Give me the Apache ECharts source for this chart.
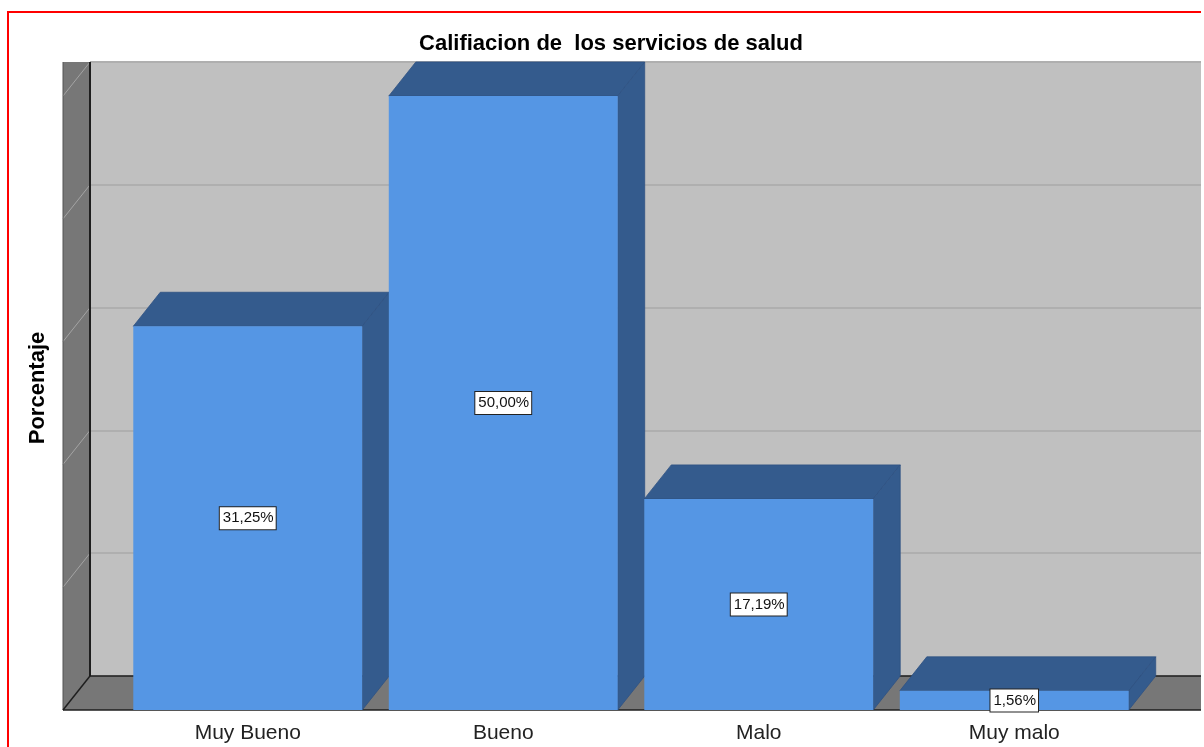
<!DOCTYPE html>
<html lang="es">
<head>
    <meta charset="UTF-8">
    <title>Califiacion de los servicios de salud</title>
    <script src="https://cdn.jsdelivr.net/npm/echarts@6/dist/echarts.min.js"></script>
    <style>
        body {
            margin: 0;
            padding: 0;
            background: #fff;
        }
        #chart {
            width: 1201px;
            height: 747px;
        }
    </style>
</head>
<body>
<div id="chart"></div>
<script>
    // Data
    const categories = ['Muy Bueno', 'Bueno', 'Malo', 'Muy malo'];
    const percentages = [31.25, 50.00, 17.19, 1.56];
    const yTicks = [0, 10, 20, 30, 40, 50];

    // 3D look: depth offset of the back plane
    const DX = 27;
    const DY = 34;
    const BAR_RATIO = 0.896;
    const FRONT = '#5596e4';
    const DARK = '#345b8d';
    const WALL = '#777777';
    const FONT = '"Liberation Sans", Arial, sans-serif';

    function fmt(v) {
        return v.toFixed(2).replace('.', ',') + '%';
    }

    // left wall + floor, drawn from the back grid
    function renderFrame(params, api) {
        const cs = params.coordSys;
        const y0 = api.coord([0, 0])[1];
        const left = cs.x;
        const right = cs.x + cs.width;
        const children = [
            { type: 'polygon', shape: { points: [[left - DX, cs.y], [left, cs.y], [left, y0], [left - DX, y0 + DY]] },
              style: { fill: WALL } },
            { type: 'polygon', shape: { points: [[left - DX, y0 + DY], [left, y0], [right + DX, y0], [right, y0 + DY]] },
              style: { fill: WALL } }
        ];
        yTicks.forEach(function (t) {
            if (t === 0) return;
            const y = api.coord([0, t])[1];
            children.push({ type: 'line', shape: { x1: left - DX, y1: y + DY, x2: left, y2: y },
                            style: { stroke: '#a4a4a4', lineWidth: 1 } });
        });
        const dark = { stroke: '#1e1e1e', lineWidth: 1.5 };
        children.push(
            { type: 'line', shape: { x1: left, y1: cs.y, x2: left, y2: y0 }, style: { stroke: '#1e1e1e', lineWidth: 2 } },
            { type: 'line', shape: { x1: left - DX, y1: cs.y, x2: left - DX, y2: y0 + DY }, style: { stroke: '#555', lineWidth: 1 } },
            { type: 'line', shape: { x1: left, y1: y0, x2: right + DX, y2: y0 }, style: dark },
            { type: 'line', shape: { x1: left - DX, y1: y0 + DY, x2: left, y2: y0 }, style: dark },
            { type: 'line', shape: { x1: left - DX, y1: y0 + DY, x2: right, y2: y0 + DY }, style: dark }
        );
        return { type: 'group', children: children };
    }

    function renderBar(params, api) {
        const v = api.value(1);
        const top = api.coord([api.value(0), v]);
        const base = api.coord([api.value(0), 0]);
        const w = api.size([1, 0])[0] * BAR_RATIO;
        const x0 = top[0] - w / 2;
        const x1 = top[0] + w / 2;
        const yt = top[1];
        const yb = base[1];
        const edge = { fill: DARK, stroke: '#2f5283', lineWidth: 0.8 };
        return {
            type: 'group',
            children: [
                { type: 'polygon', shape: { points: [[x0, yt], [x0 + DX, yt - DY], [x1 + DX, yt - DY], [x1, yt]] }, style: edge },
                { type: 'polygon', shape: { points: [[x1, yt], [x1 + DX, yt - DY], [x1 + DX, yb - DY], [x1, yb]] }, style: edge },
                { type: 'rect', shape: { x: x0, y: yt, width: w, height: yb - yt }, style: { fill: FRONT } },
                {
                    type: 'text', x: top[0], y: (yt + yb) / 2,
                    style: {
                        text: fmt(v), align: 'center', verticalAlign: 'middle',
                        fill: '#111', fontSize: 15, fontFamily: FONT,
                        backgroundColor: '#fff', borderColor: '#222', borderWidth: 1,
                        padding: [4, 2, 3, 3]
                    }
                }
            ]
        };
    }

    const chart = echarts.init(document.getElementById('chart'));

    chart.setOption({
        animation: false,
        title: {
            text: 'Califiacion de  los servicios de salud',
            left: 611,
            top: 33,
            textAlign: 'center',
            padding: 0,
            textStyle: { fontSize: 22, fontWeight: 'bold', color: '#000', fontFamily: FONT }
        },
        graphic: [
            { type: 'rect', z: 100, shape: { x: 8, y: 12, width: 1300, height: 800 },
              style: { fill: 'none', stroke: '#ff0000', lineWidth: 2 } },
            // y axis title, centred on the whole plot area
            { type: 'text', x: 38, y: 388, rotation: Math.PI / 2,
              style: { text: 'Porcentaje', align: 'center', verticalAlign: 'middle',
                       fontSize: 22, fontWeight: 'bold', fill: '#000', fontFamily: FONT } }
        ],
        grid: [
            // front plane (bars)
            { left: 120, right: 59, top: 96, bottom: 37 },
            // back wall
            { left: 90, right: 0, top: 62, bottom: 71, show: true, backgroundColor: '#c0c0c0', borderWidth: 0 }
        ],
        xAxis: [
            {
                gridIndex: 0,
                type: 'category',
                data: categories,
                axisLine: { show: false },
                axisTick: { show: false },
                axisLabel: { fontSize: 21, color: '#222', margin: 13, fontFamily: FONT }
            },
            { gridIndex: 1, type: 'value', min: 0, max: 1, show: false }
        ],
        yAxis: [
            {
                gridIndex: 0,
                type: 'value',
                min: 0,
                max: 50,
                interval: 10,
                axisLine: { show: false },
                axisTick: { show: false },
                axisLabel: { show: false },
                splitLine: { show: false }
            },
            {
                gridIndex: 1,
                type: 'value',
                min: 0,
                max: 50,
                interval: 10,
                axisLine: { show: false },
                axisTick: { show: false },
                axisLabel: { show: false },
                splitLine: { show: true, lineStyle: { color: '#afafaf', width: 2 } }
            }
        ],
        series: [
            {
                type: 'custom',
                xAxisIndex: 1,
                yAxisIndex: 1,
                clip: false,
                silent: true,
                renderItem: renderFrame,
                data: [[0, 0]],
                z: 1
            },
            {
                type: 'custom',
                xAxisIndex: 0,
                yAxisIndex: 0,
                clip: false,
                renderItem: renderBar,
                data: percentages.map(function (v, i) { return [i, v]; }),
                z: 3
            }
        ]
    });
</script>
</body>
</html>
